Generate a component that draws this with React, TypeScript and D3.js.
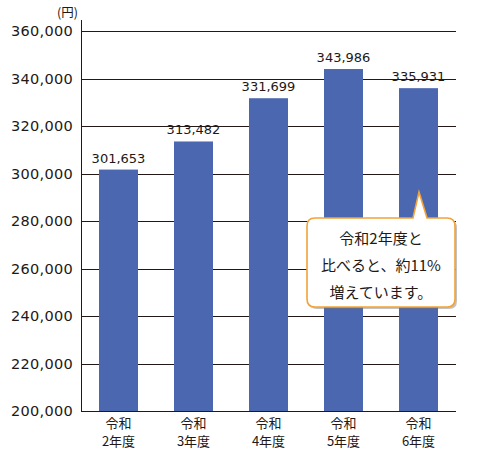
import React from "react";
import * as d3 from "d3";

const categories = ["令和\n2年度", "令和\n3年度", "令和\n4年度", "令和\n5年度", "令和\n6年度"];
const values = [301653, 313482, 331699, 343986, 335931];
const yTicks = [200000, 220000, 240000, 260000, 280000, 300000, 320000, 340000, 360000];
const unitLabel = "(円)";
const calloutLines = ["令和2年度と", "比べると、約11%", "増えています。"];

const W = 477;
const H = 453;
const TEXT = "#231815";
const BAR = "#4a67b0";
const ORANGE = "#f2a33a";
const NUM_FONT = "'DejaVu Sans', 'Liberation Sans', sans-serif";
const JP_FONT = "'Noto Sans CJK JP', sans-serif";

export default function App() {
  const x = d3.scaleBand<string>().domain(categories).range([81, 456]).paddingInner(0.48).paddingOuter(0.24);
  const y = d3.scaleLinear().domain([200000, 360000]).range([411, 31]);
  const fmt = d3.format(",");

  // callout geometry
  const cx0 = 307, cx1 = 455, cy0 = 218, cy1 = 307, r = 8;
  const tipX = 419, tipY = 192, bL = 413, bR = 427;
  const calloutPath = [
    `M${cx0 + r},${cy0}`,
    `L${bL},${cy0}`,
    `L${tipX},${tipY}`,
    `L${bR},${cy0}`,
    `L${cx1 - r},${cy0}`,
    `Q${cx1},${cy0} ${cx1},${cy0 + r}`,
    `L${cx1},${cy1 - r}`,
    `Q${cx1},${cy1} ${cx1 - r},${cy1}`,
    `L${cx0 + r},${cy1}`,
    `Q${cx0},${cy1} ${cx0},${cy1 - r}`,
    `L${cx0},${cy0 + r}`,
    `Q${cx0},${cy0} ${cx0 + r},${cy0}`,
    "Z",
  ].join(" ");

  return (
    <svg width={W} height={H} style={{ position: "absolute", left: 0, top: 0, background: "#fff" }}>
      {/* gridlines */}
      {yTicks.map((t) => (
        <line key={t} x1={81} x2={456} y1={Math.round(y(t)) + 0.5} y2={Math.round(y(t)) + 0.5} stroke={TEXT} strokeWidth={1} />
      ))}
      {/* y axis */}
      <line x1={81.5} x2={81.5} y1={20} y2={412} stroke={TEXT} strokeWidth={1} />
      {/* tick labels */}
      {yTicks.map((t) => (
        <text key={"l" + t} x={73} y={y(t) + 5} textAnchor="end" fontSize={14.5} fontFamily={NUM_FONT} fill={TEXT} letterSpacing={0.3}>
          {fmt(t)}
        </text>
      ))}
      <text x={78} y={17} textAnchor="end" fontSize={12.5} fontFamily={JP_FONT} fill={TEXT}>
        {unitLabel}
      </text>
      {/* bars */}
      {categories.map((c, i) => (
        <rect key={c} x={x(c)} y={y(values[i])} width={x.bandwidth()} height={y(200000) - y(values[i])} fill={BAR} />
      ))}
      {/* value labels */}
      {categories.map((c, i) => (
        <text key={"v" + c} x={(x(c) as number) + x.bandwidth() / 2} y={y(values[i]) - 7} textAnchor="middle" fontSize={13} fontFamily={NUM_FONT} fill={TEXT}>
          {fmt(values[i])}
        </text>
      ))}
      {/* category labels */}
      {categories.map((c) => {
        const [a, b] = c.split("\n");
        const cxm = (x(c) as number) + x.bandwidth() / 2;
        return (
          <g key={"c" + c}>
            <text x={cxm} y={428} textAnchor="middle" fontSize={13} fontFamily={JP_FONT} fill={TEXT}>{a}</text>
            <text x={cxm} y={446} textAnchor="middle" fontSize={13} fontFamily={JP_FONT} fill={TEXT}>{b}</text>
          </g>
        );
      })}
      {/* callout */}
      <path d={calloutPath} fill="#777" opacity={0.45} transform="translate(2,2)" />
      <path d={calloutPath} fill="#fff" stroke={ORANGE} strokeWidth={1.6} />
      {calloutLines.map((l, i) => (
        <text key={l} x={381} y={244 + i * 27} textAnchor="middle" fontSize={15} fontFamily={JP_FONT} fill={TEXT}>
          {l}
        </text>
      ))}
    </svg>
  );
}
